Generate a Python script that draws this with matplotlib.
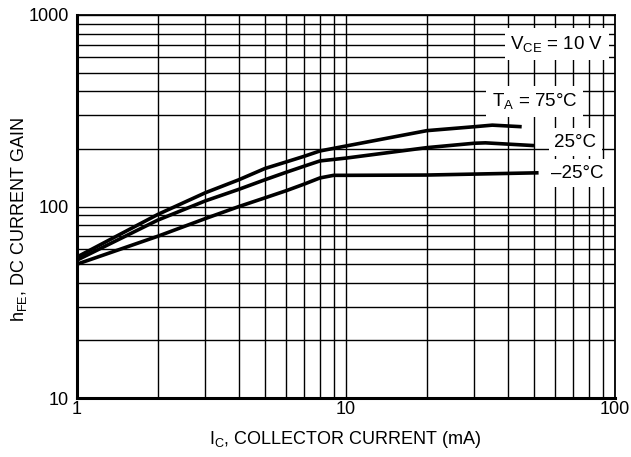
import matplotlib
matplotlib.use('Agg')
import matplotlib.pyplot as plt
from matplotlib.ticker import FixedLocator, FixedFormatter, NullFormatter

# DC current gain vs collector current, three ambient temperatures
ic_75 = [1, 2, 3, 4, 5, 6, 7, 8, 10, 20, 30, 35, 45]
hfe_75 = [54.5, 91, 118, 138, 158, 171, 183, 195, 207, 249, 261, 266, 261]

ic_25 = [1, 2, 3, 4, 5, 6, 7, 8, 10, 20, 30, 33, 50]
hfe_25 = [52.5, 85, 107, 123, 138, 151, 162.5, 173, 179, 203, 214, 215, 208]

ic_m25 = [1, 2, 3, 4, 5, 6, 7, 8, 9, 10, 20, 52]
hfe_m25 = [50, 70, 86.5, 100, 111, 121, 131, 141, 145.5, 145.5, 146, 150]

x_ticks = [1, 10, 100]
x_tick_labels = ['1', '10', '100']
y_ticks = [10, 100, 1000]
y_tick_labels = ['10', '100', '1000']

plt.rcParams['font.family'] = ['Liberation Sans', 'DejaVu Sans']
plt.rcParams['mathtext.fontset'] = 'custom'
plt.rcParams['mathtext.rm'] = 'Liberation Sans'
plt.rcParams['mathtext.it'] = 'Liberation Sans'
plt.rcParams['font.size'] = 13


def main():
    fig = plt.figure(figsize=(6.31, 4.57), dpi=100)
    ax = fig.add_axes([0.122, 0.129, 0.8526, 0.8382])

    ax.set_xscale('log')
    ax.set_yscale('log')
    ax.set_xlim(1, 100)
    ax.set_ylim(10, 1000)

    ax.xaxis.set_major_locator(FixedLocator(x_ticks))
    ax.xaxis.set_major_formatter(FixedFormatter(x_tick_labels))
    ax.yaxis.set_major_locator(FixedLocator(y_ticks))
    ax.yaxis.set_major_formatter(FixedFormatter(y_tick_labels))
    ax.xaxis.set_minor_formatter(NullFormatter())
    ax.yaxis.set_minor_formatter(NullFormatter())

    ax.tick_params(which='both', length=0)
    ax.tick_params(axis='x', pad=2, labelsize=13)
    ax.tick_params(axis='y', pad=6, labelsize=13)

    ax.grid(True, which='both', color='black', linewidth=1.0, zorder=1)
    ax.set_axisbelow(True)

    for side in ['left', 'bottom']:
        ax.spines[side].set_linewidth(2.2)
    for side in ['top', 'right']:
        ax.spines[side].set_linewidth(1.3)

    ax.plot(ic_75, hfe_75, color='black', lw=2.6, zorder=4, solid_capstyle='butt')
    ax.plot(ic_25, hfe_25, color='black', lw=2.6, zorder=4, solid_capstyle='butt')
    ax.plot(ic_m25, hfe_m25, color='black', lw=2.6, zorder=4, solid_capstyle='butt')

    box = dict(facecolor='white', edgecolor='none', pad=4)
    ax.text(0.892, 0.924, r'V$_\mathregular{CE}$ = 10 V', transform=ax.transAxes,
            ha='center', va='center', fontsize=13.5, bbox=box, zorder=3)
    ax.text(0.851, 0.775, r'T$_\mathregular{A}$ = 75°C', transform=ax.transAxes,
            ha='center', va='center', fontsize=13.5, bbox=box, zorder=3)
    ax.text(0.926, 0.668, '25°C', transform=ax.transAxes,
            ha='center', va='center', fontsize=13.5, bbox=box, zorder=3)
    ax.text(0.929, 0.587, '–25°C', transform=ax.transAxes,
            ha='center', va='center', fontsize=13.5, bbox=box, zorder=3)

    fig.text(0.548, 0.038, r'I$_\mathregular{C}$, COLLECTOR CURRENT (mA)',
             ha='center', va='center', fontsize=13)
    fig.text(0.030, 0.52, r'h$_\mathregular{FE}$, DC CURRENT GAIN',
             ha='center', va='center', rotation=90, fontsize=13)

    fig.savefig('out.png', dpi=100)


if __name__ == '__main__':
    main()
